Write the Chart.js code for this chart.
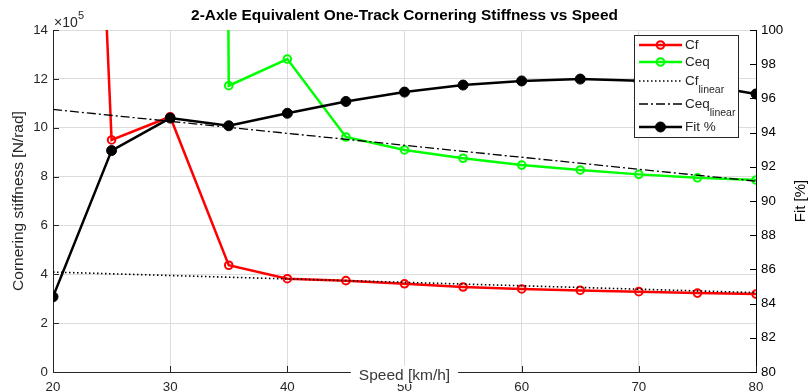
<!DOCTYPE html>
<html>
<head>
<meta charset="utf-8">
<script src="https://cdn.jsdelivr.net/npm/chart.js@4.4.1/dist/chart.umd.min.js"></script>
<style>
  html, body { margin: 0; padding: 0; background: #fff; }
  canvas { display: block; }
</style>
</head>
<body>
<canvas id="grafico" width="808" height="392"></canvas>
<script>
// ==========================================
// 1. DATOS
// ==========================================
const velocidades = [20, 25, 30, 35, 40, 45, 50, 55, 60, 65, 70, 75, 80]; // km/h

// rigidez en N/rad
const cf  = [6500000, 950000, 1045000, 437000, 382000, 374000, 361000, 348000, 340000, 334000, 329000, 323000, 319000];
const ceq = [null, null, 40000000, 1172000, 1281000, 962000, 909000, 875000, 847000, 827000, 809000, 795000, 786000];

// ajustes lineales (extremos)
const velLineal = [20, 80];
const cfLineal  = [409000, 325000];
const ceqLineal = [1075000, 781000];

// porcentaje de ajuste [%]
const fit = [84.4, 92.95, 94.85, 94.4, 95.13, 95.82, 96.37, 96.78, 97.02, 97.13, 97.03, 96.84, 96.26];

const ticksX = [20, 30, 40, 50, 60, 70, 80];
const FUENTE = '"Liberation Sans", Arial, Helvetica, sans-serif';

const pares = (xs, ys) => xs.map((x, i) => ({ x, y: ys[i] }));

// ==========================================
// 2. PLUGIN: TITULOS, TICKS INTERNOS, LEYENDA
// ==========================================
const extras = {
  id: 'extras',
  afterDraw(chart) {
    const { ctx, chartArea: a, scales } = chart;
    ctx.save();

    const linea = (x1, y1, x2, y2) => { ctx.beginPath(); ctx.moveTo(x1, y1); ctx.lineTo(x2, y2); ctx.stroke(); };

    // ticks hacia adentro
    ctx.lineWidth = 1;
    ctx.strokeStyle = '#262626';
    scales.y.ticks.forEach(t => {
      const y = Math.round(scales.y.getPixelForValue(t.value)) + 0.5;
      linea(a.left, y, a.left + 6, y);
    });
    scales.x.ticks.forEach(t => {
      const x = Math.round(scales.x.getPixelForValue(t.value)) + 0.5;
      linea(x, a.bottom, x, a.bottom - 6);
    });
    ctx.strokeStyle = '#000';
    scales.y1.ticks.forEach(t => {
      const y = Math.round(scales.y1.getPixelForValue(t.value)) + 0.5;
      linea(a.right, y, a.right - 6, y);
    });

    // titulo
    ctx.fillStyle = '#000';
    ctx.font = 'bold 15.4px ' + FUENTE;
    ctx.textAlign = 'center';
    ctx.textBaseline = 'middle';
    ctx.fillText('2-Axle Equivalent One-Track Cornering Stiffness vs Speed', (a.left + a.right) / 2, 16);

    // exponente eje izquierdo
    ctx.fillStyle = '#262626';
    ctx.textAlign = 'left';
    ctx.font = '14px ' + FUENTE;
    ctx.fillText('\u00d710', a.left + 1, 23);
    ctx.font = '11px ' + FUENTE;
    ctx.fillText('5', a.left + 25, 16);

    // titulo eje y izquierdo
    ctx.font = '15.5px ' + FUENTE;
    ctx.textAlign = 'center';
    ctx.save();
    ctx.translate(19, (a.top + a.bottom) / 2);
    ctx.rotate(-Math.PI / 2);
    ctx.fillText('Cornering stiffness [N/rad]', 0, 0);
    ctx.restore();

    // titulo eje y derecho
    ctx.fillStyle = '#000';
    ctx.font = '15px ' + FUENTE;
    ctx.save();
    ctx.translate(801, (a.top + a.bottom) / 2);
    ctx.rotate(-Math.PI / 2);
    ctx.fillText('Fit [%]', 0, 0);
    ctx.restore();

    // titulo eje x, con fondo blanco sobre el eje
    ctx.font = '15.5px ' + FUENTE;
    const tx = 'Speed [km/h]';
    const cx = (a.left + a.right) / 2;
    const w = ctx.measureText(tx).width;
    ctx.fillStyle = '#fff';
    ctx.fillRect(cx - w / 2 - 8, a.bottom - 6, w + 16, 18);
    ctx.fillStyle = '#383838';
    ctx.fillText(tx, cx, a.bottom + 4);

    // leyenda
    const lx = 634, ly = 35, lw = 104, lh = 102;
    ctx.fillStyle = '#fff';
    ctx.fillRect(lx, ly, lw, lh);
    ctx.strokeStyle = '#262626';
    ctx.lineWidth = 1;
    ctx.strokeRect(lx + 0.5, ly + 0.5, lw, lh);

    const x1 = lx + 5, x2 = lx + 48, xm = (x1 + x2) / 2, xt = lx + 51;
    chart.data.datasets.slice().reverse().forEach(ds => {
      const y = ds.leyendaY;
      ctx.strokeStyle = ds.borderColor;
      ctx.lineWidth = ds.borderWidth;
      ctx.setLineDash(ds.borderDash || []);
      linea(x1, y, x2, y);
      ctx.setLineDash([]);
      if (ds.pointRadius > 0) {
        ctx.beginPath();
        ctx.arc(xm, y, ds.pointRadius, 0, Math.PI * 2);
        if (ds.pointBackgroundColor !== 'transparent') { ctx.fillStyle = ds.pointBackgroundColor; ctx.fill(); }
        ctx.lineWidth = ds.pointBorderWidth;
        ctx.strokeStyle = ds.borderColor;
        ctx.stroke();
      }
      ctx.fillStyle = '#262626';
      ctx.textAlign = 'left';
      ctx.font = '13.5px ' + FUENTE;
      ctx.fillText(ds.label, xt, y);
      if (ds.sub) {
        const wl = ctx.measureText(ds.label).width;
        ctx.font = '10.5px ' + FUENTE;
        ctx.fillText(ds.sub, xt + wl, y + 9);
      }
    });

    ctx.restore();
  }
};

// ==========================================
// 3. GRAFICO
// ==========================================
new Chart(document.getElementById('grafico'), {
  type: 'line',
  data: {
    datasets: [
      {
        label: 'Fit %', yAxisID: 'y1', order: 0, leyendaY: 127,
        data: pares(velocidades, fit),
        borderColor: '#000', backgroundColor: '#000', borderWidth: 2.5,
        pointRadius: 5, pointBackgroundColor: '#000', pointBorderWidth: 1
      },
      {
        label: 'Ceq', sub: 'linear', yAxisID: 'y', order: 1, leyendaY: 104,
        data: pares(velLineal, ceqLineal),
        borderColor: '#000', borderWidth: 1.3, borderDash: [9, 3, 2, 3], pointRadius: 0
      },
      {
        label: 'Cf', sub: 'linear', yAxisID: 'y', order: 2, leyendaY: 81,
        data: pares(velLineal, cfLineal),
        borderColor: '#000', borderWidth: 1.6, borderDash: [1.5, 2.5], pointRadius: 0
      },
      {
        label: 'Ceq', yAxisID: 'y', order: 3, leyendaY: 62,
        data: pares(velocidades, ceq),
        borderColor: '#00ff00', borderWidth: 2.5,
        pointRadius: 3.8, pointBackgroundColor: 'transparent', pointBorderWidth: 2
      },
      {
        label: 'Cf', yAxisID: 'y', order: 4, leyendaY: 45,
        data: pares(velocidades, cf),
        borderColor: '#ff0000', borderWidth: 2.5,
        pointRadius: 3.8, pointBackgroundColor: 'transparent', pointBorderWidth: 2
      }
    ]
  },
  options: {
    responsive: false,
    animation: false,
    devicePixelRatio: 1,
    layout: { padding: { top: 30, left: 0, right: 0, bottom: 0 } },
    plugins: { legend: { display: false }, title: { display: false }, tooltip: { enabled: false } },
    elements: { line: { tension: 0 } },
    scales: {
      x: {
        type: 'linear', min: 20, max: 80,
        afterBuildTicks: s => { s.ticks = ticksX.map(v => ({ value: v })); },
        afterFit: s => { s.height = 20; },
        ticks: { color: '#262626', font: { family: FUENTE, size: 13.3 }, padding: 7, maxRotation: 0 },
        grid: { color: '#dcdcdc', drawTicks: false },
        border: { color: '#262626', width: 1 }
      },
      y: {
        position: 'left', min: 0, max: 1400000,
        ticks: { stepSize: 200000, callback: v => v / 100000, color: '#262626', font: { family: FUENTE, size: 13.3 }, padding: 5 },
        afterFit: s => { s.width = 53; },
        grid: { color: '#dcdcdc', drawTicks: false },
        border: { color: '#262626', width: 1 }
      },
      y1: {
        position: 'right', min: 80, max: 100,
        ticks: { stepSize: 2, color: '#000', font: { family: FUENTE, size: 13.3 }, padding: 5 },
        afterFit: s => { s.width = 52; },
        grid: { display: false, drawTicks: false },
        border: { color: '#000', width: 1 }
      }
    }
  },
  plugins: [extras]
});
</script>
</body>
</html>
